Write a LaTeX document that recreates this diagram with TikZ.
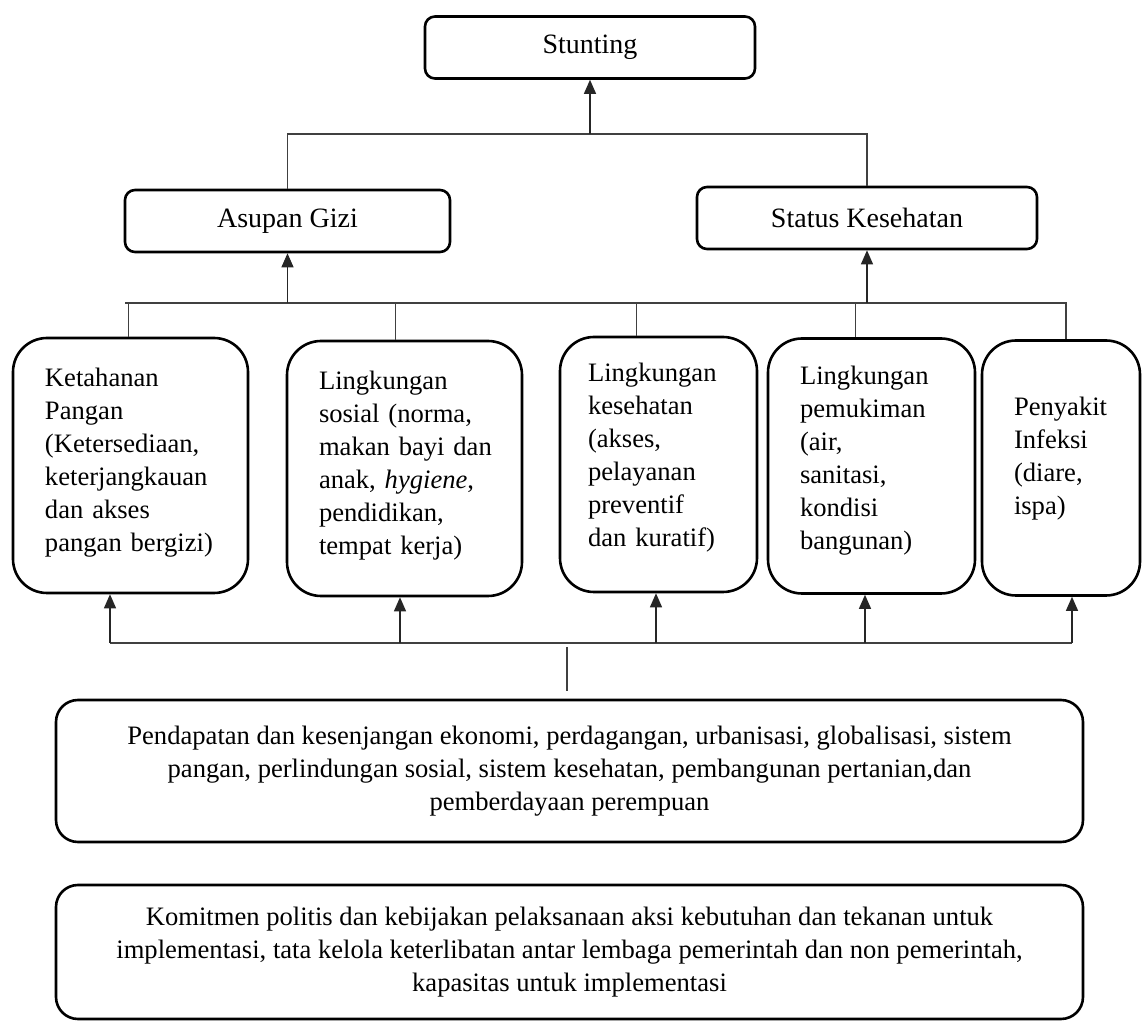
\documentclass[tikz,border=0pt]{standalone}
\usepackage{fontspec}
\setmainfont{Liberation Serif}
\usetikzlibrary{arrows.meta}
\newcommand{\boxpad}[1][6pt]{\rule[-#1]{0pt}{#1}}

\begin{document}
\begin{tikzpicture}[x=0.5pt, y=-0.5pt,
    every node/.style={font=\fontsize{13.3}{16.5}\selectfont},
    head/.style={draw, line width=1.3pt, rounded corners=5pt,
                 minimum height=31pt, font=\fontsize{14}{16.5}\selectfont},
    factor/.style={draw, line width=1.3pt, rounded corners=17pt,
                   align=left, inner xsep=16pt, minimum height=127.5pt},
    base/.style={draw, line width=1.3pt, rounded corners=11pt,
                 align=center, minimum width=513.5pt},
    link/.style={-{Triangle[width=6pt, length=7pt]}, line width=0.6pt, black!85},
    bus/.style={line width=0.6pt, black!75},
  ]
  \useasboundingbox (0,0) rectangle (1142,1021);

  % outcome and direct causes
  \node[head, minimum width=165pt] (stunting) at (590,47.5) {Stunting};
  \node[head, minimum width=162.5pt] (asupan) at (287.5,221) {Asupan Gizi};
  \node[head, minimum width=170pt] (status) at (867,218) {Status Kesehatan};

  % underlying factors
  \node[factor, text width=85.5pt] (pangan) at (130.5,465.5)
    {Ketahanan\\ Pangan\\ (Ketersediaan,\\ keterjangkauan\\ dan akses\\ pangan bergizi)\boxpad};
  \node[factor, text width=85.5pt] (sosial) at (404.5,468.5)
    {Lingkungan\\ sosial (norma,\\ \mbox{makan bayi dan}\\ \mbox{anak, \textit{hygiene},}\\ pendidikan,\\ tempat kerja)\boxpad};
  \node[factor, text width=70.5pt, inner xsep=14pt] (sehat) at (658.5,464.5)
    {Lingkungan\\ kesehatan\\ (akses,\\ pelayanan\\ preventif\\ dan kuratif)\boxpad[10pt]};
  \node[factor, text width=71.5pt] (mukim) at (871.5,466)
    {Lingkungan\\ pemukiman\\ (air,\\ sanitasi,\\ kondisi\\ bangunan)\boxpad[8pt]};
  \node[factor, text width=47pt] (infeksi) at (1061,468)
    {Penyakit\\ Infeksi\\ (diare,\\ ispa)\boxpad[12pt]};

  % basic causes
  \node[base, minimum height=71pt] (ekonomi) at (569.5,771)
    {Pendapatan dan kesenjangan ekonomi, perdagangan, urbanisasi, globalisasi, sistem\\
     pangan, perlindungan sosial, sistem kesehatan, pembangunan pertanian,dan\\
     pemberdayaan perempuan};
  \node[base, minimum height=67pt] (politik) at (569.5,952)
    {Komitmen politis dan kebijakan pelaksanaan aksi kebutuhan dan tekanan untuk\\
     implementasi, tata kelola keterlibatan antar lembaga pemerintah dan non pemerintah,\\
     kapasitas untuk implementasi};

  % top level
  \coordinate (top bus) at (590,134);
  \draw[bus] (asupan.north) |- (status.north |- top bus) -- (status.north);
  \draw[link] (top bus) -- (stunting);

  % middle level
  \coordinate (mid west) at (125,303);
  \coordinate (mid east) at (1067,303);
  \draw[bus] (mid west) -- (mid east);
  \draw[link] (asupan.south |- mid west) -- (asupan);
  \draw[link] (status.south |- mid west) -- (status);
  \foreach \fac/\dx in {pangan/-2, sosial/-9, sehat/-22, mukim/-16, infeksi/5} {
    \path (\fac.north) ++(\dx,0) coordinate (drop);
    \draw[bus] (drop) -- (drop |- mid west);
  }

  % lower level
  \coordinate (low west) at (110,643);
  \coordinate (low east) at (1072,643);
  \draw[bus] (low west) -- (low east);
  \foreach \fac/\dx in {pangan/-20.5, sosial/-4.5, sehat/-2.5, mukim/-6.5, infeksi/11} {
    \path (\fac.south) ++(\dx,0) coordinate (foot);
    \draw[link] (foot |- low west) -- (foot);
  }
  \coordinate (stub) at (567,647);
  \draw[bus, shorten >=4pt] (stub) -- (stub |- ekonomi.north);
\end{tikzpicture}
\end{document}
